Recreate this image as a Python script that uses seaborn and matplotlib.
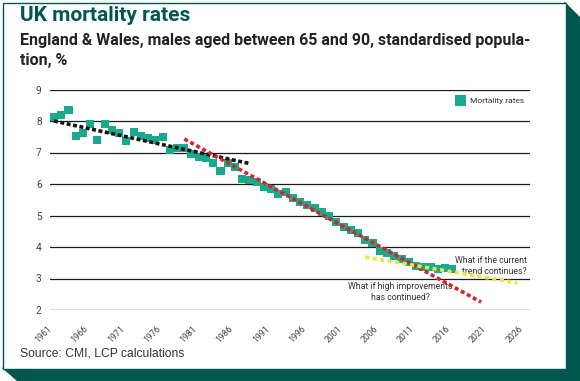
import matplotlib
matplotlib.use("Agg")
import matplotlib.pyplot as plt
from matplotlib.patches import Polygon, Rectangle
import seaborn as sns
import pandas as pd

# Data
years = list(range(1961, 2017))
rates = [8.13, 8.19, 8.35, 7.52, 7.62, 7.90, 7.40, 7.90, 7.71, 7.62,
         7.37, 7.65, 7.52, 7.46, 7.40, 7.49, 7.09, 7.15, 7.15, 6.94,
         6.85, 6.83, 6.67, 6.41, 6.67, 6.54, 6.16, 6.13, 6.06, 5.90,
         5.84, 5.68, 5.75, 5.56, 5.44, 5.33, 5.24, 5.11, 4.98, 4.79,
         4.63, 4.54, 4.44, 4.22, 4.13, 3.87, 3.81, 3.71, 3.62, 3.52,
         3.40, 3.37, 3.37, 3.30, 3.32, 3.30]

# trend lines
old_trend_years = [1961, 1988]
old_trend_vals = [8.00, 6.65]
high_impr_years = [1979, 2020]
high_impr_vals = [7.43, 2.25]
current_years = [2004, 2025]
current_vals = [3.68, 2.86]

tick_years = list(range(1961, 2027, 5))
y_ticks = [2, 3, 4, 5, 6, 7, 8, 9]

TEAL = "#00574f"
MARK = "#1aa98b"
FONT = ["Roboto", "DejaVu Sans"]

df = pd.DataFrame({"year": years, "rate": rates})

W, H = 580, 381
fig = plt.figure(figsize=(W / 100, H / 100), dpi=100)


def fx(px):
    return px / W


def fy(py):
    return 1 - py / H


# card background with shadow
bg = fig.add_axes([0, 0, 1, 1], zorder=0)
bg.set_xlim(0, W)
bg.set_ylim(H, 0)
bg.axis("off")
bg.add_patch(Polygon([(565, 2), (580, 17), (580, 381), (17, 381), (2, 368)],
                     closed=True, facecolor=TEAL, edgecolor="none"))
bg.add_patch(Rectangle((2.5, 2.5), 563, 366, facecolor="white",
                       edgecolor=TEAL, linewidth=1.0))

# main chart axes
left, right, top, bottom = 50, 530, 89.5, 310
ax = fig.add_axes([fx(left), fy(bottom), (right - left) / W, (bottom - top) / H],
                  zorder=2)
ax.patch.set_alpha(0)

sns.scatterplot(data=df, x="year", y="rate", marker="s", s=34, color=MARK,
                edgecolor="none", linewidth=0, label="Mortality rates", ax=ax,
                zorder=3, clip_on=False)
sns.lineplot(x=old_trend_years, y=old_trend_vals, ax=ax, color="#151515",
             linewidth=2.6, linestyle=(0, (1.1, 0.7)), zorder=4)
sns.lineplot(x=high_impr_years, y=high_impr_vals, ax=ax, color="#d8222d",
             linewidth=2.6, linestyle=(0, (1.1, 0.8)), zorder=5)
sns.lineplot(x=current_years, y=current_vals, ax=ax, color="#efe53a",
             linewidth=2.6, linestyle=(0, (1.1, 1.0)), zorder=5)

ax.set_xlim(1960.45, 2026.75)
ax.set_ylim(2, 9)
ax.set_yticks(y_ticks)
ax.set_xticks(tick_years)
ax.set_xticklabels([str(y) for y in tick_years], rotation=45, ha="right",
                   fontsize=6.3, color="#444444", family=FONT,
                   fontstretch="condensed")
ax.set_yticklabels([str(v) for v in y_ticks], fontsize=7.3, color="#444444",
                   family=FONT, fontstretch="condensed")
ax.tick_params(axis="both", length=0)
ax.tick_params(axis="y", pad=6)
ax.tick_params(axis="x", pad=10)
ax.grid(axis="y", color="#1a1a1a", linewidth=0.9)
ax.grid(axis="x", visible=False)
ax.set_axisbelow(True)
for s in ax.spines.values():
    s.set_visible(False)
ax.set_xlabel("")
ax.set_ylabel("")

leg = ax.legend(loc="upper right", bbox_to_anchor=(fx(530), fy(91)),
                bbox_transform=fig.transFigure, frameon=False,
                handletextpad=0.1, borderpad=0.2, markerscale=1.35,
                prop={"family": FONT, "size": 6, "stretch": "condensed"})
for t in leg.get_texts():
    t.set_color("#333333")

# annotations
ax.text(2026.3, 3.4, "What if the current\ntrend continues?", ha="right",
        va="center", fontsize=6.3, color="#333333", family=FONT,
        fontstretch="condensed", linespacing=1.35)
ax.text(2008.8, 2.58, "What if high improvements\nhas continued?", ha="center",
        va="center", fontsize=6.3, color="#333333", family=FONT,
        fontstretch="condensed", linespacing=1.35)

# titles and source
fig.text(fx(20), fy(6), "UK mortality rates", fontsize=15, fontweight="bold",
         color=TEAL, family=FONT, fontstretch="condensed", va="top")
fig.text(fx(20), fy(33),
         "England & Wales, males aged between 65 and 90, standardised popula-\ntion, %",
         fontsize=11.5, fontweight="bold", color="#222222", family=FONT,
         fontstretch="condensed", va="top", linespacing=1.45)
fig.text(fx(20), fy(353), "Source: CMI, LCP calculations", fontsize=8.7,
         color="#333333", family=["Liberation Sans", "DejaVu Sans"],
         va="center")

fig.savefig("out.png", dpi=100)
